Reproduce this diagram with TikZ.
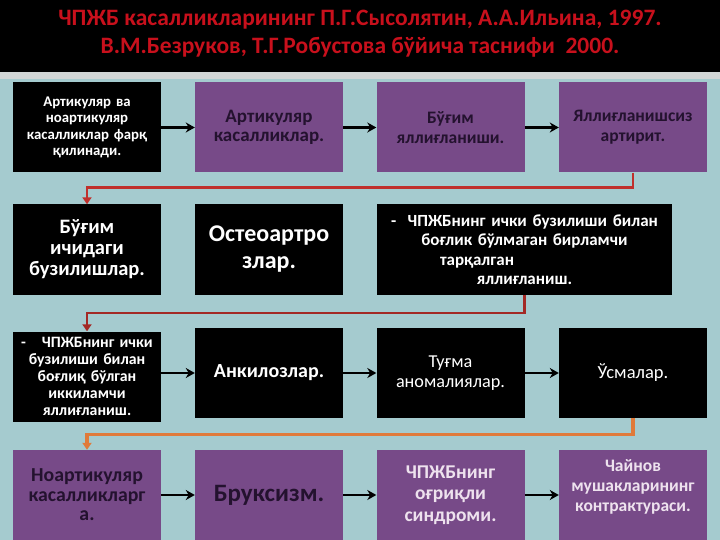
\documentclass[tikz,border=0pt]{standalone}
\usepackage{fontspec}
\setmainfont{Carlito}
\usetikzlibrary{arrows.meta,calc}
\definecolor{bgteal}{HTML}{A5CBCF}
\definecolor{strip}{HTML}{D2D6D6}
\definecolor{ttlred}{HTML}{C8101C}
\definecolor{boxpurple}{HTML}{774A88}
\definecolor{darktxt}{HTML}{24122F}
\definecolor{lighttxt}{HTML}{EEE2EE}
\definecolor{connred}{HTML}{C0302C}
\definecolor{connorange}{HTML}{E07A3A}
\begin{document}
\begin{tikzpicture}[x=1pt,y=-1pt,
  blackbox/.style={rectangle,fill=black,text=white,inner sep=2pt,align=center,font=\bfseries},
  purplebox/.style={rectangle,fill=boxpurple,text=darktxt,inner sep=2pt,align=center,font=\bfseries},
  bsize/.style={minimum width=148pt,minimum height=90pt,text width=144pt},
  flowarrow/.style={draw=black,line width=2.6pt,-{Stealth[length=9pt,width=10pt]}},
  connA/.style={draw=connred,line width=2.8pt,-{Triangle[length=7pt,width=9pt]}},
  connB/.style={draw=connred!85!black,line width=2.4pt,-{Triangle[length=7pt,width=9pt]}},
  connC/.style={draw=connorange,line width=3.2pt,-{Triangle[length=7pt,width=9pt]}}
]
\useasboundingbox (0,0) rectangle (720,540);
\fill[bgteal] (0,0) rectangle (720,540);
\fill[black] (0,0) rectangle (720,72);
\fill[strip] (0,72) rectangle (720,79);
\node[text=ttlred,font=\fontsize{23.5}{28}\selectfont\bfseries,align=center] (title) at (360,34)
  {ЧПЖБ касалликларининг П.Г.Сысолятин, А.А.Ильина, 1997.\\В.М.Безруков, Т.Г.Робустова бўйича таснифи\ \ 2000.};

% Row 1
\node[blackbox,bsize,font=\fontsize{14.8}{16.5}\selectfont\bfseries] (b11) at (87,127.5)
  {Артикуляр ва\\ноартикуляр\\касалликлар фарқ\\қилинади.};
\node[purplebox,bsize,font=\fontsize{19}{19.5}\selectfont\bfseries] (b12) at (269,127.5)
  {Артикуляр\\касалликлар.};
\node[purplebox,bsize,font=\fontsize{17.5}{20}\selectfont\bfseries] (b13) at (450.5,127.5)
  {Бўғим\\яллиғланиши.};
\node[purplebox,bsize,font=\fontsize{17.5}{20}\selectfont\bfseries] (b14) at (633,127.5)
  {Яллиғланишсиз\\артирит.};

% Row 2
\node[blackbox,bsize,font=\fontsize{20.5}{21}\selectfont\bfseries] (b21) at (87,249.5)
  {Бўғим\\ичидаги\\бузилишлар.};
\node[blackbox,bsize,font=\fontsize{24}{27}\selectfont\bfseries] (b22) at (269,249.5)
  {Остеоартро\\злар.};
\node[blackbox,minimum width=295pt,minimum height=90pt,text width=291pt,font=\fontsize{17}{19.5}\selectfont\bfseries] (b23) at (524.5,249.5)
  {-\ \ ЧПЖБнинг ички бузилиши билан\\боғлик бўлмаган бирламчи\\\makebox[169pt][l]{тарқалган}\\яллиғланиш.};

% Row 3
\node[blackbox,bsize,font=\fontsize{15.8}{17}\selectfont\bfseries] (b31) at (87,376.5)
  {-\quad ЧПЖБнинг ички\\бузилиши билан\\боғлиқ бўлган\\иккиламчи\\яллиғланиш.};
\node[blackbox,bsize,font=\fontsize{20}{22}\selectfont\bfseries] (b32) at (269,373)
  {Анкилозлар.};
\node[blackbox,bsize,font=\fontsize{18.2}{20}\selectfont] (b33) at (450.5,373)
  {Туғма\\аномалиялар.};
\node[blackbox,bsize,font=\fontsize{18.5}{20}\selectfont] (b34) at (633,373)
  {Ўсмалар.};

% Row 4
\node[purplebox,bsize,font=\fontsize{19.8}{19.5}\selectfont\bfseries] (b41) at (87,495)
  {Ноартикуляр\\касалликларг\\а.};
\node[purplebox,bsize,font=\fontsize{25}{26}\selectfont\bfseries] (b42) at (269,495)
  {Бруксизм.};
\node[purplebox,bsize,text=lighttxt,font=\fontsize{19.5}{21.5}\selectfont\bfseries] (b43) at (450.5,495)
  {ЧПЖБнинг\\оғриқли\\синдроми.};
\node[purplebox,bsize] (b44) at (633,495) {};
\node[text=lighttxt,align=center,font=\fontsize{17.5}{20}\selectfont\bfseries] (t44) at (633,487)
  {Чайнов\\мушакларининг\\контрактураси.};

% flow arrows
\draw[flowarrow] (b11) -- (b12);
\draw[flowarrow] (b12) -- (b13);
\draw[flowarrow] (b13) -- (b14);
\draw[flowarrow] (b31.east |- b32) -- (b32.west);
\draw[flowarrow] (b32) -- (b33);
\draw[flowarrow] (b33) -- (b34);
\draw[flowarrow] (b41.east |- b42) -- (b42.west);
\draw[flowarrow] (b42) -- (b43);
\draw[flowarrow] (b43) -- (b44);

% row connectors
\draw[connA] (b14.south) -- ++(0,15) -| (b21.north);
\draw[connB] (b23.south) -- ++(0,18) -| (b31.north);
\draw[connC] (b34.south) -- ++(0,16) -| (b41.north);
\end{tikzpicture}
\end{document}
